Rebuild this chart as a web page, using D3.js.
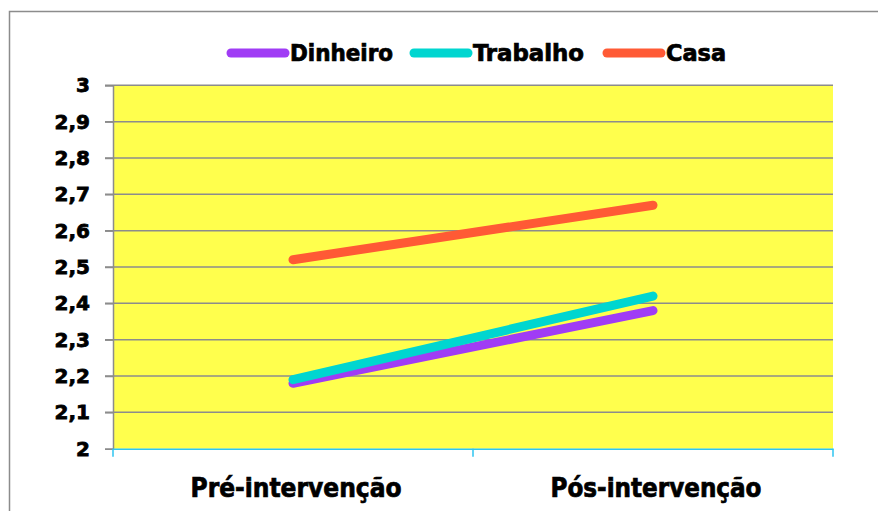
<!DOCTYPE html>
<html><head><meta charset="utf-8">
<script src="https://cdn.jsdelivr.net/npm/d3@7"></script>
<style>body{margin:0;background:#fff}svg{display:block}</style>
</head><body>
<svg id="c" width="878" height="511"></svg>
<script>
const categories = ["Pré-intervenção", "Pós-intervenção"];
const seriesNames = ["Dinheiro", "Trabalho", "Casa"];
const seriesColors = ["#A03CF5", "#00D6D0", "#FF5A35"];
const dinheiro = [2.18, 2.38];
const trabalho = [2.19, 2.42];
const casa = [2.52, 2.67];
const yTicks = [2, 2.1, 2.2, 2.3, 2.4, 2.5, 2.6, 2.7, 2.8, 2.9, 3];

const series = [dinheiro, trabalho, casa].map((v, i) => ({name: seriesNames[i], color: seriesColors[i], values: v}));
const font = "'DejaVu Sans Condensed', 'DejaVu Sans', sans-serif";
const fontWide = "'DejaVu Sans', sans-serif";

const svg = d3.select("#c");
svg.append("rect").attr("x", 9.5).attr("y", 11.5).attr("width", 900).attr("height", 600)
  .attr("fill", "#fff").attr("stroke", "#8c8c8c").attr("stroke-width", 1.5);

const L = 113, R = 833, T = 85.3, B = 448.7;
const x = d3.scaleBand().domain(categories).range([L, R]);
const y = d3.scaleLinear().domain([2, 3]).range([B, T]);

svg.append("rect").attr("x", L).attr("y", T).attr("width", R - L).attr("height", B - T).attr("fill", "#FFFF4D");

// gridlines
svg.append("g").selectAll("line").data(yTicks.slice(1)).join("line")
  .attr("x1", L - 8).attr("x2", R).attr("y1", d => y(d)).attr("y2", d => y(d))
  .attr("stroke", "#8c8c8c").attr("stroke-width", 1.5);

// y axis
const yAxis = svg.append("g").attr("transform", `translate(${L},0)`)
  .call(d3.axisLeft(y).tickValues(yTicks).tickSize(8).tickPadding(15)
    .tickFormat(d => d3.format(".1f")(d).replace(".", ",").replace(/,0$/, "")));
yAxis.select(".domain").attr("stroke", "#8c8c8c").attr("stroke-width", 1.5);
yAxis.selectAll(".tick line").attr("stroke", "#8c8c8c").attr("stroke-width", 1.5);
yAxis.selectAll("text").attr("font-family", fontWide).attr("font-weight", "bold")
  .attr("font-size", 20).attr("fill", "#000").attr("stroke", "#000").attr("stroke-width", 0.8);

// x axis
const xAxis = svg.append("g").attr("transform", `translate(0,${B})`)
  .call(d3.axisBottom(x).tickSize(0).tickPadding(46));
xAxis.select(".domain").attr("stroke", "#2EC4F0").attr("stroke-width", 1.5);
xAxis.selectAll("text").attr("font-family", font).attr("font-weight", "bold")
  .attr("font-size", 27).attr("fill", "#000").attr("dy", "0.1em").attr("dx", 3)
  .attr("stroke", "#000").attr("stroke-width", 0.7)
  .attr("textLength", 211).attr("lengthAdjust", "spacingAndGlyphs");
svg.append("g").selectAll("line").data([L, L + x.bandwidth(), R]).join("line")
  .attr("x1", d => d).attr("x2", d => d).attr("y1", B).attr("y2", B + 8)
  .attr("stroke", "#2EC4F0").attr("stroke-width", 1.5);

// lines
const line = d3.line().x((d, i) => x(categories[i]) + x.bandwidth() / 2).y(d => y(d));
svg.append("g").selectAll("path").data(series).join("path")
  .attr("d", d => line(d.values)).attr("fill", "none")
  .attr("stroke", d => d.color).attr("stroke-width", 9).attr("stroke-linecap", "round");

// legend
const legendX = [231, 414, 607];
const legendW = [103, 111, 60];
const lg = svg.append("g").selectAll("g").data(series).join("g")
  .attr("transform", (d, i) => `translate(${legendX[i]},53)`);
lg.append("line").attr("x1", 0).attr("x2", 54).attr("stroke", d => d.color)
  .attr("stroke-width", 9).attr("stroke-linecap", "round");
lg.append("text").attr("x", 59).attr("dy", "0.36em").text(d => d.name)
  .attr("font-family", font).attr("font-weight", "bold").attr("font-size", 23).attr("fill", "#000")
  .attr("stroke", "#000").attr("stroke-width", 0.7)
  .attr("textLength", (d, i) => legendW[i]).attr("lengthAdjust", "spacingAndGlyphs");
</script>
</body></html>
